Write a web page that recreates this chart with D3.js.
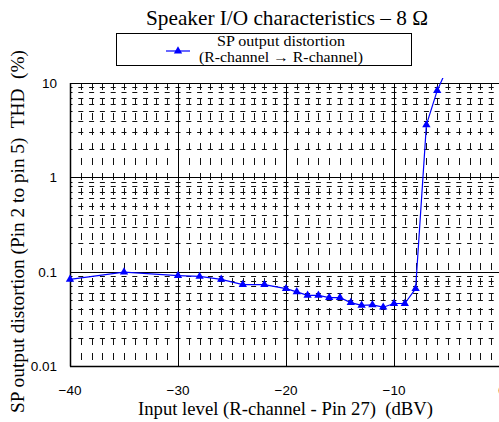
<!DOCTYPE html>
<html><head><meta charset="utf-8">
<script src="https://cdn.jsdelivr.net/npm/d3@7/dist/d3.min.js"></script>
<style>
html,body{margin:0;padding:0;background:#fff;}
svg{display:block;}
</style></head>
<body>
<svg id="chart" width="499" height="422"></svg>
<script>
// Data
const inputLevel = [-40, -35, -30, -28, -26, -24, -22, -20, -19, -18, -17, -16, -15, -14, -13, -12, -11, -10, -9, -8, -7, -6, -5];
const thd = [0.083, 0.099, 0.091, 0.089, 0.083, 0.073, 0.073, 0.066, 0.061, 0.056, 0.056, 0.053, 0.053, 0.047, 0.044, 0.0445, 0.042, 0.046, 0.046, 0.066, 3.6, 8.3, 15];
const xMajorTicks = [-40, -30, -20, -10, 0];
const xTickLabels = ["\u221240", "\u221230", "\u221220", "\u221210", "0"];
const yMajorTicks = [0.01, 0.1, 1, 10];
const yTickLabels = ["0.01", "0.1", "1", "10"];
const titleText = "Speaker I/O characteristics \u2013 8 \u03A9";
const legendLines = ["SP output distortion", "(R-channel \u2192 R-channel)"];
const xLabel = "Input level (R-channel - Pin 27)  (dBV)";
const yLabel = "SP output distortion (Pin 2 to pin 5)  THD  (%)";

(function(){
const svg = d3.select("#chart");
const pL = 70, pR = 502, pT = 83, pB = 366;
const x = d3.scaleLinear().domain([-40, 0]).range([pL, pR]);
const y = d3.scaleLog().domain([0.01, 10]).range([pB, pT]);

const serif = "'Liberation Serif','Times New Roman',serif";
const sans = "'Liberation Sans',Arial,sans-serif";

// minor grid
const xMinor = d3.range(-39, 0, 1).filter(v => v % 10 !== 0);
const yMinor = [];
[0.01, 0.1, 1].forEach(d => { for (let k = 2; k <= 9; k++) yMinor.push(d * k); });

const grid = svg.append("g");
grid.selectAll("line.vminor").data(xMinor).join("line")
  .attr("x1", d => Math.round(x(d)) + 0.5).attr("x2", d => Math.round(x(d)) + 0.5)
  .attr("y1", pT).attr("y2", pB)
  .attr("stroke", "#111").attr("stroke-width", 1)
  .attr("stroke-dasharray", "7,8");
grid.selectAll("line.hminor").data(yMinor).join("line")
  .attr("x1", pL).attr("x2", 499)
  .attr("y1", d => Math.round(y(d)) + 0.5).attr("y2", d => Math.round(y(d)) + 0.5)
  .attr("stroke", "#111").attr("stroke-width", 1)
  .attr("stroke-dasharray", "5,5.8").attr("stroke-dashoffset", 2.5);
// major grid
grid.selectAll("line.vmajor").data(xMajorTicks).join("line")
  .attr("x1", d => Math.round(x(d)) + 0.5).attr("x2", d => Math.round(x(d)) + 0.5)
  .attr("y1", pT).attr("y2", pB)
  .attr("stroke", "#000").attr("stroke-width", 1);
grid.selectAll("line.hmajor").data(yMajorTicks).join("line")
  .attr("x1", pL).attr("x2", 499)
  .attr("y1", d => Math.round(y(d)) + 0.5).attr("y2", d => Math.round(y(d)) + 0.5)
  .attr("stroke", "#000").attr("stroke-width", 1);
// axes lines
svg.append("line").attr("x1", pL + 0.5).attr("x2", pL + 0.5).attr("y1", pT).attr("y2", pB + 0.5)
  .attr("stroke", "#000").attr("stroke-width", 1.5);
svg.append("line").attr("x1", pL).attr("x2", 499).attr("y1", pB + 0.5).attr("y2", pB + 0.5)
  .attr("stroke", "#000").attr("stroke-width", 1.5);

// tick labels
svg.selectAll("text.yt").data(yMajorTicks).join("text")
  .attr("x", 57).attr("y", d => y(d) + 5)
  .attr("text-anchor", "end").attr("font-family", sans).attr("font-size", 13.5)
  .text((d, i) => yTickLabels[i]);
svg.selectAll("text.xt").data(xMajorTicks).join("text")
  .attr("x", d => x(d)).attr("y", 395)
  .attr("text-anchor", "middle").attr("font-family", sans).attr("font-size", 13.5)
  .text((d, i) => xTickLabels[i]);

// data
svg.append("clipPath").attr("id", "clip").append("rect")
  .attr("x", pL).attr("y", pT - 5).attr("width", 499 - pL).attr("height", pB - pT + 5);
const line = d3.line().x((d, i) => x(inputLevel[i])).y(d => y(d));
svg.append("path").datum(thd).attr("d", line).attr("fill", "none")
  .attr("stroke", "#0000ff").attr("stroke-width", 1.2).attr("clip-path", "url(#clip)");
const tri = d3.symbol().type(d3.symbolTriangle).size(30);
svg.selectAll("path.pt").data(thd.slice(0, thd.length - 1)).join("path")
  .attr("d", tri).attr("fill", "#0000ff")
  .attr("transform", (d, i) => `translate(${x(inputLevel[i])},${y(d)})`);

// title
svg.append("text").attr("x", 287).attr("y", 25).attr("text-anchor", "middle")
  .attr("font-family", serif).attr("font-size", 21)
  .attr("textLength", 282).attr("lengthAdjust", "spacingAndGlyphs").text(titleText);

// legend
svg.append("rect").attr("x", 116.5).attr("y", 33.5).attr("width", 295).attr("height", 32)
  .attr("fill", "#fff").attr("stroke", "#000").attr("stroke-width", 1);
svg.append("line").attr("x1", 166).attr("x2", 190).attr("y1", 51).attr("y2", 51)
  .attr("stroke", "#0000ff").attr("stroke-width", 1.2);
svg.append("path").attr("d", tri).attr("fill", "#0000ff").attr("transform", "translate(178,51)");
svg.selectAll("text.leg").data(legendLines).join("text")
  .attr("x", 281).attr("y", (d, i) => 46 + i * 15.5)
  .attr("text-anchor", "middle").attr("font-family", serif).attr("font-size", 14)
  .attr("textLength", (d, i) => i === 0 ? 128 : 164).attr("lengthAdjust", "spacingAndGlyphs")
  .text(d => d);

// axis labels
svg.append("text").attr("x", 285.5).attr("y", 415).attr("text-anchor", "middle")
  .attr("font-family", serif).attr("font-size", 18).style("white-space", "pre")
  .attr("textLength", 295).attr("lengthAdjust", "spacingAndGlyphs").text(xLabel);
svg.append("text").attr("transform", "translate(24,231.5) rotate(-90)").attr("text-anchor", "middle")
  .attr("font-family", serif).attr("font-size", 18).style("white-space", "pre")
  .attr("textLength", 363).attr("lengthAdjust", "spacingAndGlyphs").text(yLabel);
})();
</script>
</body></html>
